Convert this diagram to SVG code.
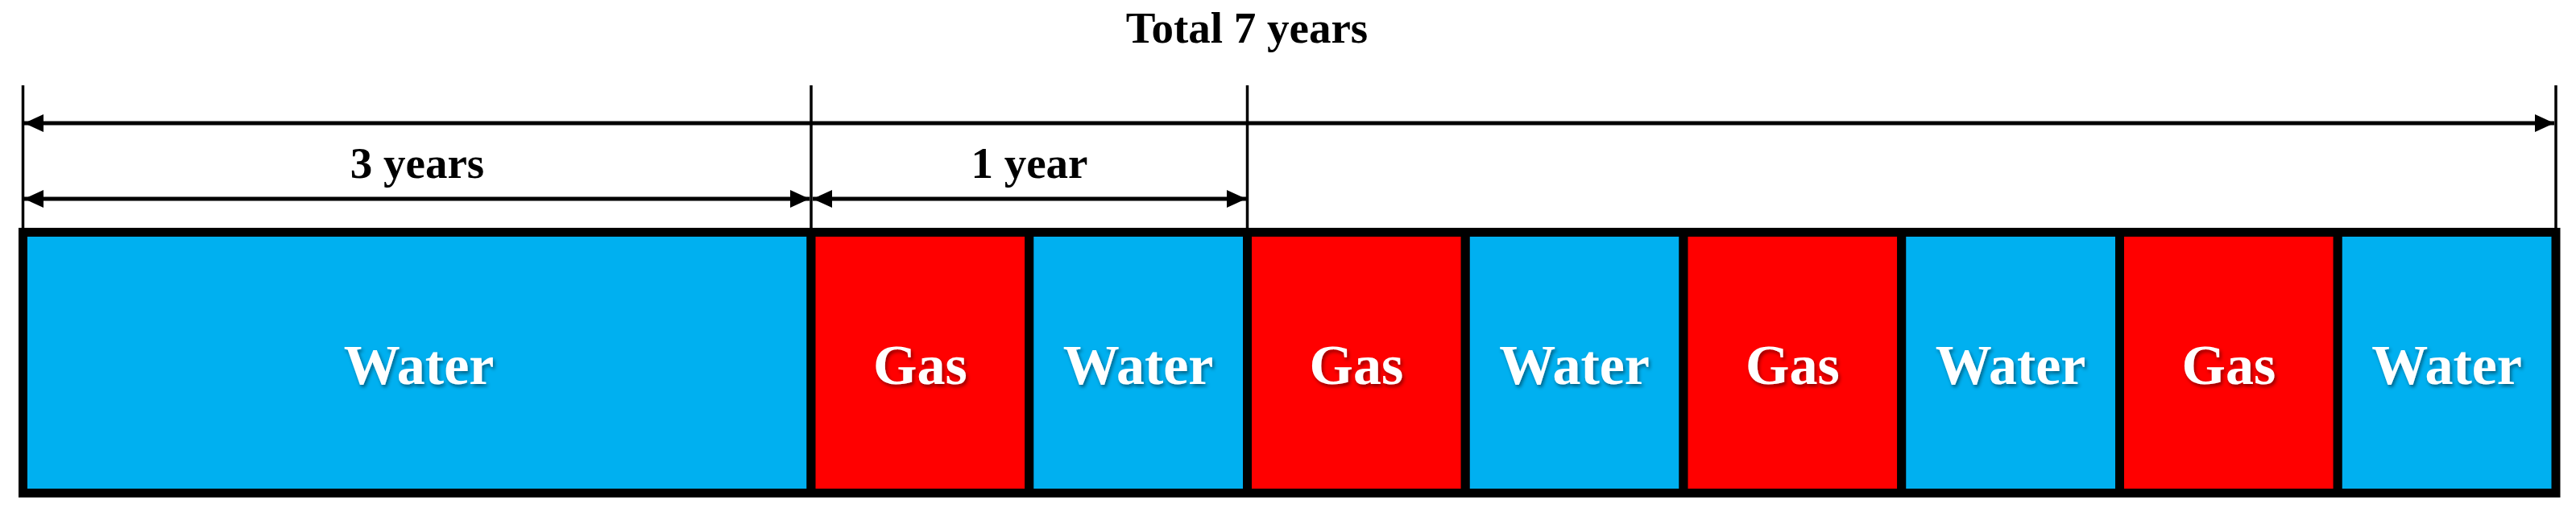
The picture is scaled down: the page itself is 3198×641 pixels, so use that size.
<svg xmlns="http://www.w3.org/2000/svg" width="3198" height="641" viewBox="0 0 3198 641">
<style>
.lbl{font-family:"Liberation Serif","Times New Roman",serif;font-weight:bold;fill:#000;text-anchor:middle}
.box{stroke:#000;stroke-width:11}
.water{fill:#00B0F0}
.gas{fill:#FF0000}
.bt{font-family:"Liberation Serif","Times New Roman",serif;font-weight:bold;font-size:70px;fill:#fff;text-anchor:middle;filter:url(#sh)}
.dim{stroke:#000;stroke-width:3.5}
.arr{stroke:#000;stroke-width:5;fill:none;marker-start:url(#ah);marker-end:url(#ah)}
</style>
<defs>
<marker id="ah" markerUnits="userSpaceOnUse" markerWidth="24" markerHeight="22" refX="24" refY="11" orient="auto-start-reverse">
<path d="M0,0 L24,11 L0,22 z" fill="#000"/>
</marker>
<filter id="sh" x="-10%" y="-20%" width="130%" height="150%">
<feDropShadow dx="2" dy="3" stdDeviation="2" flood-color="#000" flood-opacity="0.45"/>
</filter>
</defs>
<text class="lbl" x="1548" y="53" font-size="55">Total 7 years</text>
<g id="connectors">
<line class="dim" x1="28.5" y1="106" x2="28.5" y2="284"/>
<line class="dim" x1="1007" y1="106" x2="1007" y2="284"/>
<line class="dim" x1="1548.5" y1="106" x2="1548.5" y2="284"/>
<line class="dim" x1="3173" y1="106" x2="3173" y2="284"/>
<line class="arr" x1="30" y1="153" x2="3171" y2="153"/>
<line class="arr" x1="30" y1="247" x2="1005" y2="247"/>
<line class="arr" x1="1009" y1="247" x2="1547" y2="247"/>
<text class="lbl" x="518" y="221" font-size="55">3 years</text>
<text class="lbl" x="1278" y="221" font-size="55">1 year</text>
</g>
<g id="b0"><rect class="box water" x="28.5" y="288.5" width="978.5" height="324"/><text class="bt" x="520" y="477">Water</text></g>
<g id="b1"><rect class="box gas" x="1007" y="288.5" width="270.75" height="324"/><text class="bt" x="1142.4" y="477">Gas</text></g>
<g id="b2"><rect class="box water" x="1277.75" y="288.5" width="270.75" height="324"/><text class="bt" x="1413.1" y="477">Water</text></g>
<g id="b3"><rect class="box gas" x="1548.5" y="288.5" width="270.75" height="324"/><text class="bt" x="1683.9" y="477">Gas</text></g>
<g id="b4"><rect class="box water" x="1819.25" y="288.5" width="270.75" height="324"/><text class="bt" x="1954.6" y="477">Water</text></g>
<g id="b5"><rect class="box gas" x="2090" y="288.5" width="270.75" height="324"/><text class="bt" x="2225.4" y="477">Gas</text></g>
<g id="b6"><rect class="box water" x="2360.75" y="288.5" width="270.75" height="324"/><text class="bt" x="2496.1" y="477">Water</text></g>
<g id="b7"><rect class="box gas" x="2631.5" y="288.5" width="270.75" height="324"/><text class="bt" x="2766.9" y="477">Gas</text></g>
<g id="b8"><rect class="box water" x="2902.25" y="288.5" width="270.75" height="324"/><text class="bt" x="3037.6" y="477">Water</text></g>
</svg>
